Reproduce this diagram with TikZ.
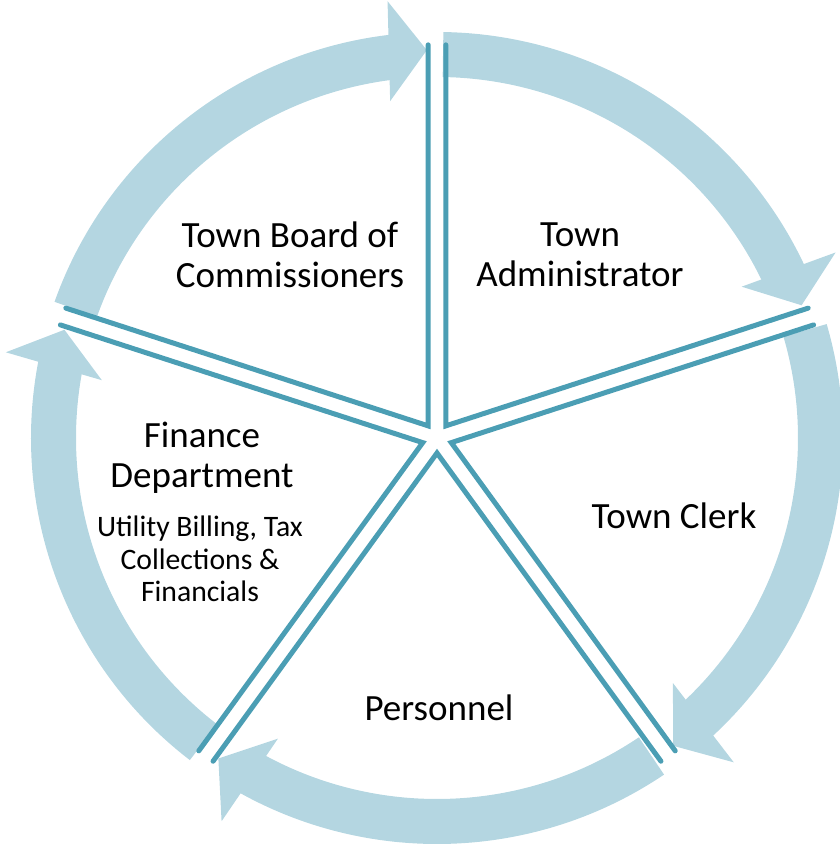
\documentclass[tikz,border=0pt]{standalone}
\usepackage{fontspec}
\setmainfont{Carlito}
\usetikzlibrary{calc}

\definecolor{ringblue}{RGB}{180,214,225}
\definecolor{edgeteal}{RGB}{75,158,180}

\tikzset{
  ringfill/.style={fill=ringblue},
  wedgeedge/.style={draw=edgeteal, line width=5pt, line join=miter, line cap=round},
  bigtext/.style={font=\fontsize{37}{40}\selectfont, align=center, inner sep=0pt},
  smalltext/.style={font=\fontsize{29.7}{32.5}\selectfont, align=center, inner sep=0pt},
}

% curved clockwise arrow on the ring: #1 = tail angle, #2 = tip angle
\newcommand\ringarrow[2]{%
  \fill[ringfill] (#1:361) arc[start angle=#1, end angle=#2+4, radius=361]
    -- (#2+4:406) arc[start angle=#2+4, end angle=#1, radius=406] -- cycle;
  \coordinate (tip) at (#2:388);
  \coordinate (back) at ($(tip)+(#2+90:38)$);
  \fill[ringfill] (tip) -- ($(back)+(#2:50)$) -- ($(back)-(#2:50)$) -- cycle;
}

% the two straight edges of one pie segment, bisector angle #1
\newcommand\wedgeoutline[1]{%
  \coordinate (apex) at (#1:15);
  \draw[wedgeedge] ($(apex)+(#1+36:381)$) -- (apex) -- ($(apex)+(#1-36:381)$);
}

\begin{document}
\begin{tikzpicture}[x=1pt, y=1pt]
  \useasboundingbox (-437,-412) rectangle (402,438);

  % ring of arrows
  \ringarrow{160.4}{91.5}
  \ringarrow{89.1}{20}
  \ringarrow{16.3}{-52.5}
  \ringarrow{-56}{-124.3}
  \ringarrow{-127.5}{-196.2}

  % segment edges
  \wedgeoutline{126}
  \wedgeoutline{54}
  \wedgeoutline{-18}
  \wedgeoutline{-90}
  \wedgeoutline{198}

  % labels
  \node[bigtext] (board) at (-147,183) {Town Board of\\Commissioners};
  \node[bigtext] (admin) at (143,183) {Town\\Administrator};
  \node[bigtext] (finance) at (-235,-20) {Finance\\Department};
  \node[smalltext] (financedetail) at (-237,-121) {Utility Billing, Tax\\Collections \&\\Financials};
  \node[bigtext, anchor=base] (clerk) at (237,-90) {Town Clerk};
  \node[bigtext, anchor=base] (personnel) at (2,-282) {Personnel};
\end{tikzpicture}
\end{document}
